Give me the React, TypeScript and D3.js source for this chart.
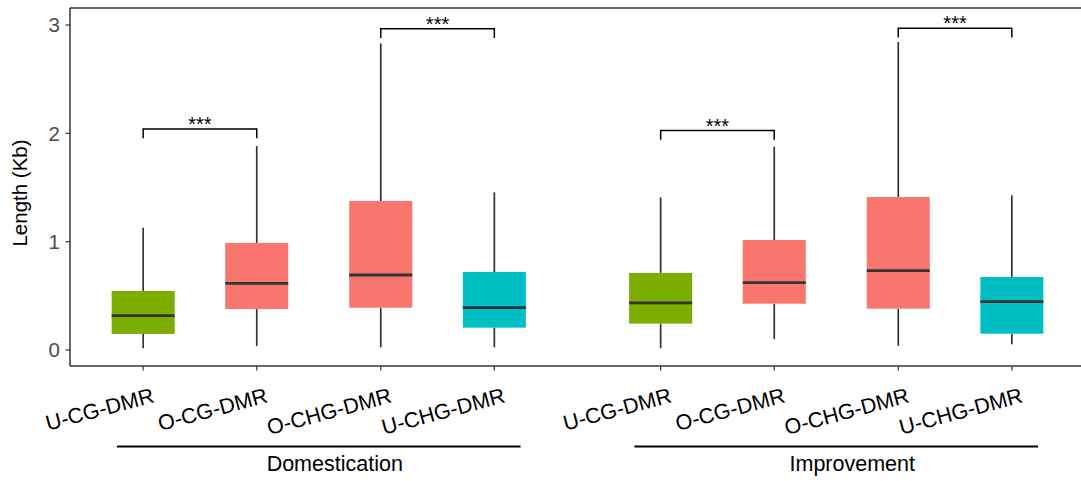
import React from 'react';
import * as d3 from 'd3';

// groups along the x axis, and the four DMR types inside each
const groups = ['Domestication', 'Improvement'];
const types = ['U-CG-DMR', 'O-CG-DMR', 'O-CHG-DMR', 'U-CHG-DMR'];
const contexts = ['CG', 'CG', 'CHG', 'CHG'];
const slotInPair = [0, 1, 0, 1];
const typeColors = ['#7CAE00', '#F8766D', '#F8766D', '#00BFC4'];

// box stats (Kb): [lower whisker, q1, median, q3, upper whisker]
const domesticationStats = [
  [0.016, 0.148, 0.317, 0.545, 1.129],
  [0.037, 0.378, 0.615, 0.988, 1.883],
  [0.025, 0.39, 0.692, 1.375, 2.831],
  [0.025, 0.206, 0.39, 0.72, 1.455],
];
const improvementStats = [
  [0.016, 0.243, 0.434, 0.711, 1.409],
  [0.1, 0.427, 0.621, 1.015, 1.877],
  [0.037, 0.381, 0.732, 1.412, 2.843],
  [0.052, 0.15, 0.446, 0.674, 1.428],
];

// significance brackets
const bracketGroups = ['Domestication', 'Domestication', 'Improvement', 'Improvement'];
const bracketContexts = ['CG', 'CHG', 'CG', 'CHG'];
const bracketY = [2.04, 2.965, 2.025, 2.969];
const bracketLabels = ['***', '***', '***', '***'];

const yTicks = [0, 1, 2, 3];

const W = 1081;
const H = 481;
const font = '"Liberation Sans", Arial, Helvetica, sans-serif';

export default function App() {
  const left = 70, right = 1081, top = 8, bottom = 366;

  const y = d3.scaleLinear().domain([-0.148, 3.157]).range([bottom, top]);

  const outer = d3.scaleBand().domain(groups).range([60, 1095]).padding(0);
  const half = outer.bandwidth() / 2;
  const pair = d3.scalePoint().domain(['CG', 'CHG']).range([-half, half]).padding(0.589);
  const pairHalf = pair.step() / 2;
  const inner = d3.scalePoint<number>().domain([0, 1]).range([-pairHalf, pairHalf]).padding(0.546);
  const boxW = inner.step() * 0.555;

  const xPos = (g: string, i: number) =>
    (outer(g) as number) + half + (pair(contexts[i]) as number) + (inner(slotInPair[i]) as number);

  const statsByGroup: Record<string, number[][]> = {
    Domestication: domesticationStats,
    Improvement: improvementStats,
  };

  const boxes = groups.flatMap(g =>
    statsByGroup[g].map((s, i) => ({ g, i, type: types[i], x: xPos(g, i), s }))
  );

  const tip = 0.085;

  return (
    <div style={{ position: 'absolute', left: 0, top: 0 }}>
      <svg width={W} height={H} style={{ display: 'block', background: '#fff' }}>
        {/* panel border (top + left) and bottom axis */}
        <line x1={left} x2={right} y1={top} y2={top} stroke="#333" strokeWidth={1.5} />
        <line x1={left} x2={left} y1={top} y2={bottom} stroke="#333" strokeWidth={1.5} />
        <line x1={left} x2={right} y1={bottom} y2={bottom} stroke="#333" strokeWidth={1.5} />

        {/* y axis */}
        {yTicks.map(t => (
          <g key={t}>
            <line x1={left - 4.5} x2={left} y1={y(t)} y2={y(t)} stroke="#333" strokeWidth={1.2} />
            <text x={left - 10} y={y(t)} dy="0.36em" textAnchor="end" fontFamily={font} fontSize={20.5} fill="#4D4D4D">
              {t}
            </text>
          </g>
        ))}
        <text
          transform={`translate(27, ${(top + bottom) / 2 + 6}) rotate(-90)`}
          textAnchor="middle"
          fontFamily={font}
          fontSize={20.5}
          fill="#000"
        >
          Length (Kb)
        </text>

        {/* boxes */}
        {boxes.map(b => (
          <g key={b.g + b.type}>
            <line x1={b.x} x2={b.x} y1={y(b.s[0])} y2={y(b.s[1])} stroke="#333" strokeWidth={1.7} />
            <line x1={b.x} x2={b.x} y1={y(b.s[3])} y2={y(b.s[4])} stroke="#333" strokeWidth={1.7} />
            <rect
              x={b.x - boxW / 2}
              width={boxW}
              y={y(b.s[3])}
              height={y(b.s[1]) - y(b.s[3])}
              fill={typeColors[b.i]}
            />
            <line
              x1={b.x - boxW / 2}
              x2={b.x + boxW / 2}
              y1={y(b.s[2])}
              y2={y(b.s[2])}
              stroke="#333"
              strokeWidth={2.8}
            />
          </g>
        ))}

        {/* x ticks + rotated labels */}
        {boxes.map(b => (
          <g key={'t' + b.g + b.type}>
            <line x1={b.x} x2={b.x} y1={bottom} y2={bottom + 4.5} stroke="#333" strokeWidth={1.2} />
            <text
              transform={`translate(${b.x + 12}, ${bottom + 36}) rotate(-15)`}
              textAnchor="end"
              fontFamily={font}
              fontSize={21.5}
              fill="#000"
            >
              {b.type}
            </text>
          </g>
        ))}

        {/* significance brackets */}
        {bracketY.map((v, k) => {
          const g = bracketGroups[k];
          const idx = contexts.map((c, i) => (c === bracketContexts[k] ? i : -1)).filter(i => i >= 0);
          const x1 = xPos(g, idx[0]);
          const x2 = xPos(g, idx[1]);
          const p = d3.path();
          p.moveTo(x1, y(v - tip));
          p.lineTo(x1, y(v));
          p.lineTo(x2, y(v));
          p.lineTo(x2, y(v - tip));
          return (
            <g key={'b' + k}>
              <path d={p.toString()} fill="none" stroke="#000" strokeWidth={1.5} />
              <text x={(x1 + x2) / 2} y={y(v) + 2} textAnchor="middle" fontFamily={font} fontSize={20} fill="#000">
                {bracketLabels[k]}
              </text>
            </g>
          );
        })}

        {/* group underlines and labels */}
        {groups.map(g => {
          const c = (outer(g) as number) + half;
          const lw = outer.bandwidth() * 0.78;
          return (
            <g key={'g' + g}>
              <line x1={c - lw / 2} x2={c + lw / 2} y1={446.5} y2={446.5} stroke="#000" strokeWidth={2} />
              <text x={c + 16} y={470.5} textAnchor="middle" fontFamily={font} fontSize={21.5} fill="#000">
                {g}
              </text>
            </g>
          );
        })}
      </svg>
    </div>
  );
}
